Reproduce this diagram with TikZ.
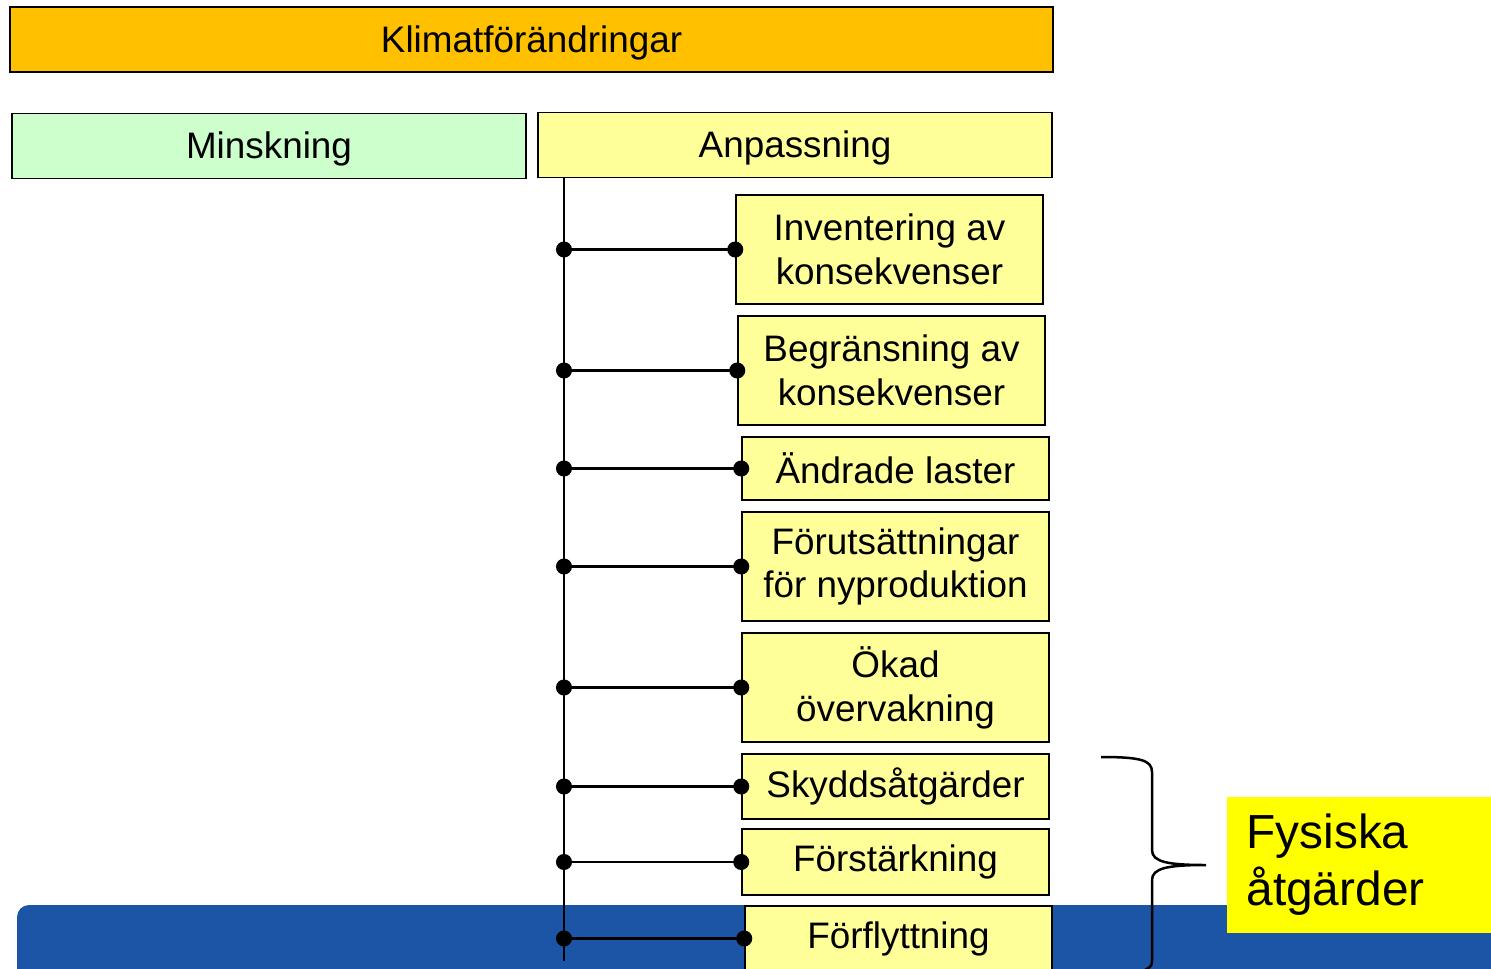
\documentclass[tikz,border=0pt]{standalone}
\usepackage{fontspec}
\setmainfont{Liberation Sans}
\usepackage{tikz}
\usetikzlibrary{arrows.meta,shapes}
\definecolor{klimat}{HTML}{FFC000}
\definecolor{minsk}{HTML}{CCFFCC}
\definecolor{anpass}{HTML}{FFFF99}
\definecolor{fysisk}{HTML}{FFFF00}
\definecolor{band}{HTML}{1C55A5}
\tikzstyle{head}=[draw,line width=1.5bp,minimum width=514bp,minimum height=65bp,inner sep=0pt,text height=31bp,text depth=6bp,font=\fontsize{37}{44}\selectfont]
\tikzstyle{measure}=[draw,fill=anpass,line width=1.5bp,minimum width=307bp,inner sep=0pt,align=center,font=\fontsize{37}{44}\selectfont]
\tikzstyle{tap}=[draw,line width=2.5bp,{Circle[length=16bp]}-{Circle[length=16bp]},shorten <=-8bp,shorten >=-8bp]

\begin{document}
\begin{tikzpicture}[x=1bp,y=-1bp]
    \useasboundingbox (0,0) rectangle (1491,968);
    \clip (0,0) rectangle (1491,968);
    % Blue band at the bottom
    \fill[band,rounded corners=12bp] (17,905) rectangle (1520,1000);

    % First we draw the headings
    \node[head,fill=klimat,minimum width=1043bp] (klimat) at (531.5,39.5) {Klimatförändringar};
    \node[head,fill=minsk] (minsk) at (269,146) {Minskning};
    \node[head,fill=anpass] (anpass) at (795,145) {Anpassning};

    % Then the measures below Anpassning
    \foreach \pos/\h/\name/\txt in {{(889.5,249.5)/109/inv/{Inventering av\\konsekvenser}},
        {(891.5,370.5)/109/beg/{Begränsning av\\konsekvenser}},
        {(895.5,468.5)/63/last/{Ändrade laster}},
        {(895.5,566.5)/109/nyprod/{Förutsättningar\\för nyproduktion}},
        {(895.5,687.5)/109/overv/{Ökad\\övervakning}},
        {(895.5,786.5)/65/skydd/{Skyddsåtgärder}},
        {(895.5,862)/66/forst/{Förstärkning}},
        {(898.5,938.5)/65/forfl/{Förflyttning}}}
        \node[measure,minimum height=\h bp] (\name) at \pos {\txt};

    % Spine and taps
    \coordinate (spinetop) at (564,178);
    \coordinate (spinebot) at (564,961);
    \draw[line width=2.5bp] (spinetop) -- (spinebot);
    \foreach \dest in {inv,beg,last,nyprod,overv,skydd,forst,forfl}
        \path[tap] (\dest.west -| spinetop) -- (\dest.west);

    % Brace and label
    \coordinate (bracetop) at (1101,757);
    \coordinate (bracetip) at (1206,865);
    \coordinate (bracebot) at (1145,970);
    \draw[line width=2.5bp] (bracetop) .. controls (1140,757) and (1152,760) .. (1152,772)
        -- (1152,850) .. controls (1152,862) and (1168,865) .. (bracetip)
        .. controls (1168,865) and (1152,868) .. (1152,880)
        -- (1152,958) .. controls (1152,966) .. (bracebot);
    \node[fill=fysisk,minimum height=136bp,text width=224bp,inner xsep=20bp,inner ysep=0pt,align=left,
        font=\fontsize{48}{57}\selectfont] (fysiska) at (1358.5,865) {Fysiska\\åtgärder};
\end{tikzpicture}
\end{document}
